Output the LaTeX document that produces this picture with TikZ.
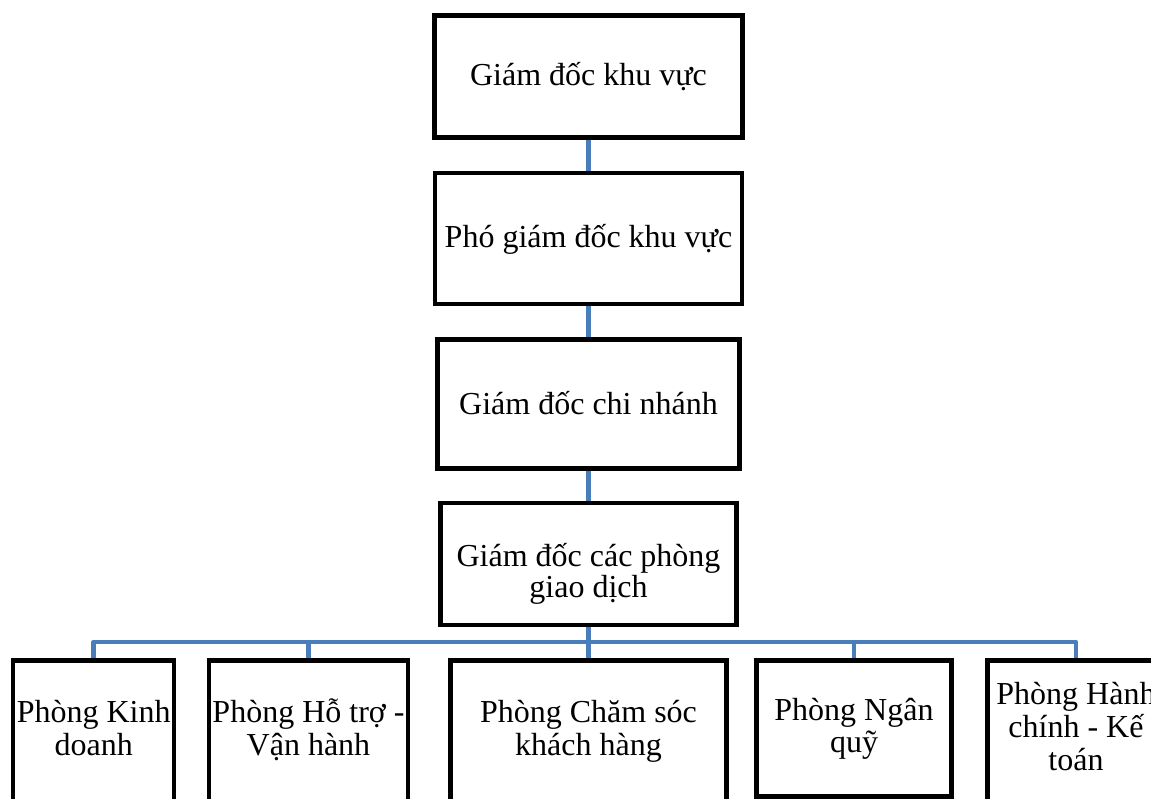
\documentclass[tikz,border=0pt]{standalone}
\usepackage{fontspec}
\setmainfont{Liberation Serif}
\usetikzlibrary{backgrounds}
\definecolor{linkblue}{RGB}{74,126,187}
\begin{document}
\begin{tikzpicture}[x=1pt,y=-1pt,
  box/.style={draw=black, line width=4.5pt, inner sep=0pt},
  lbl/.style={font=\fontsize{32}{33}\selectfont, align=center, inner sep=0pt, anchor=base},
  link/.style={draw=linkblue, line width=4.5pt, line join=round}]
\useasboundingbox (0,0) rectangle (1151,799);
\clip (0,0) rectangle (1151,799);
% top chain
\node[box, minimum width=308pt, minimum height=122pt] (A) at (588.5,76.5) {};
\node[box, minimum width=307pt, minimum height=131pt] (B) at (588.5,238.5) {};
\node[box, minimum width=302pt, minimum height=129pt] (C) at (588.5,404) {};
\node[box, minimum width=296pt, minimum height=122pt] (D) at (588.5,564) {};
\node[lbl] (tA) at (588.5,85.7) {Giám đốc khu vực};
\node[lbl] (tB) at (588.5,248) {Phó giám đốc khu vực};
\node[lbl] (tC) at (588.5,414) {Giám đốc chi nhánh};
\node[lbl, font=\fontsize{32}{29}\selectfont] (tD) at (588.5,597) {Giám đốc các phòng\\giao dịch};
% bottom row
\node[box, minimum width=161pt, minimum height=200pt, anchor=north] (b1) at (93.7,658) {};
\node[box, minimum width=199pt, minimum height=200pt, anchor=north] (b2) at (308.5,658) {};
\node[box, minimum width=276pt, minimum height=200pt, anchor=north] (b3) at (588.5,658) {};
\node[box, minimum width=195pt, minimum height=136pt, anchor=north] (b4) at (854,658) {};
\node[box, minimum width=177pt, minimum height=200pt, anchor=north] (b5) at (1076,658) {};
\node[lbl] (t1) at (93.7,755) {Phòng Kinh\\doanh};
\node[lbl] (t2) at (308.5,755) {Phòng Hỗ trợ -\\Vận hành};
\node[lbl] (t3) at (588.5,755) {Phòng Chăm sóc\\khách hàng};
\node[lbl, font=\fontsize{32}{32}\selectfont] (t4) at (854,752) {Phòng Ngân\\quỹ};
\node[lbl] (t5) at (1076,770) {Phòng Hành\\chính - Kế\\toán};
\coordinate (bus) at (588.5,642);
\begin{scope}[on background layer]
\draw[link] (A.south) -- (B.north);
\draw[link] (B.south) -- (C.north);
\draw[link] (C.south) -- (D.north);
\draw[link] (D.south) -- (b3.north);
\draw[link] (b1.north) |- (bus) -| (b5.north);
\draw[link] (b2.north) -- (b2.north |- bus);
\draw[link] (b4.north) -- (b4.north |- bus);
\end{scope}
\end{tikzpicture}
\end{document}
